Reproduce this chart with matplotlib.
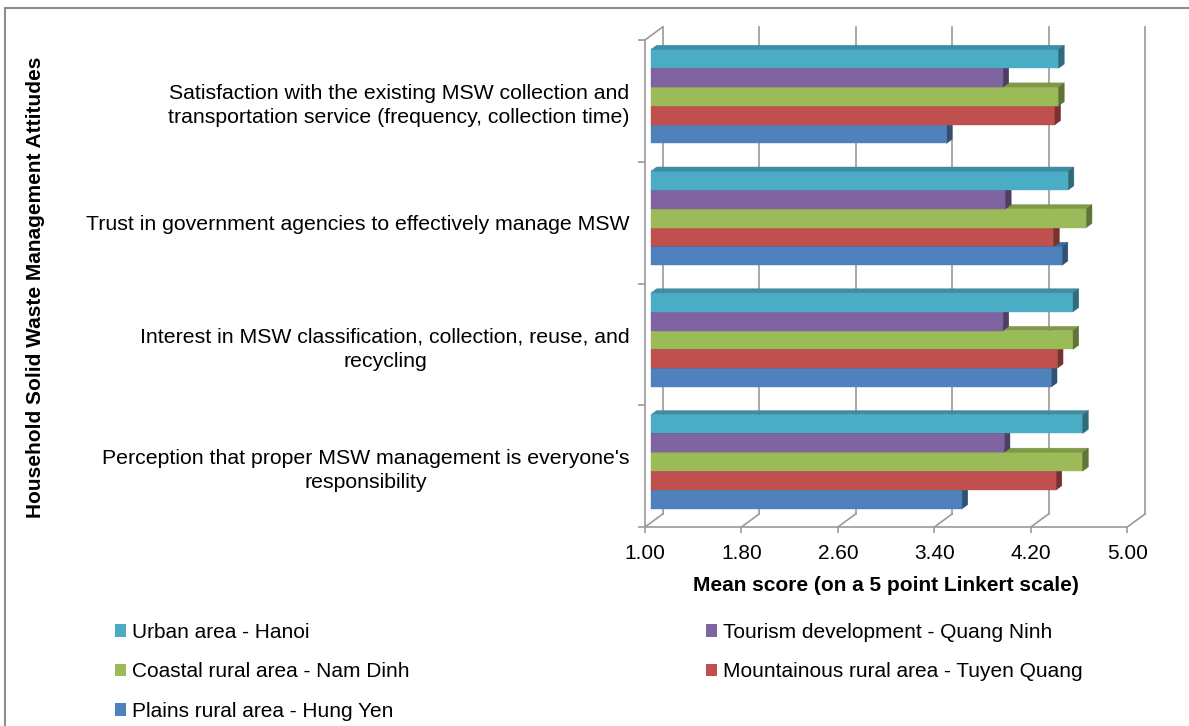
import numpy as np
import matplotlib
matplotlib.use("Agg")
import matplotlib.pyplot as plt
from matplotlib.patches import Patch
from matplotlib.lines import Line2D
from matplotlib.colors import to_rgb

plt.rcParams['font.family'] = ['Liberation Sans', 'DejaVu Sans']

# categories, bottom to top
categories = [
    "Perception that proper MSW management is everyone's\nresponsibility",
    "Interest in MSW classification, collection, reuse, and\nrecycling",
    "Trust in government agencies to effectively manage MSW",
    "Satisfaction with the existing MSW collection and\ntransportation service (frequency, collection time)",
]

series_names = [
    "Urban area - Hanoi",
    "Tourism development - Quang Ninh",
    "Coastal rural area - Nam Dinh",
    "Mountainous rural area - Tuyen Quang",
    "Plains rural area - Hung Yen",
]
colors = ['#4BACC6', '#8064A2', '#9BBB59', '#C0504D', '#4F81BD']

# mean scores, same order as categories
hanoi = [4.58, 4.50, 4.46, 4.38]
quang_ninh = [3.93, 3.92, 3.94, 3.92]
nam_dinh = [4.58, 4.50, 4.61, 4.38]
tuyen_quang = [4.36, 4.37, 4.34, 4.35]
hung_yen = [3.58, 4.32, 4.41, 3.45]

xticks = [1.0, 1.8, 2.6, 3.4, 4.2, 5.0]
xtick_labels = ['1.00', '1.80', '2.60', '3.40', '4.20', '5.00']

GRID = '#9a9a9a'
FS = 15

# fake 3d box: full depth offset in data units, and depth slice used by bars
DX, DY = 0.147, 0.107
Z0, Z1 = 0.34, 0.66
BAR_H = 0.1545


def proj(x, y, z):
    return x + z * DX, y + z * DY


def shade(c, f):
    r, g, b = to_rgb(c)
    return (r * f, g * f, b * f)


W, H = 1189, 726
fig = plt.figure(figsize=(W / 100, H / 100), dpi=100)
ax = fig.add_axes([645 / W, 1 - 527 / H, 482.3 / W, 487 / H])
ax.set_xlim(1, 5)
ax.set_ylim(-0.5, len(categories) - 0.5)
ax.patch.set_visible(False)
for s in ax.spines.values():
    s.set_visible(False)

y_lo, y_hi = -0.5, len(categories) - 0.5

# back wall gridlines + floor lines
for x in xticks:
    bx, by0 = proj(x, y_lo, 1)
    _, by1 = proj(x, y_hi, 1)
    ax.plot([bx, bx], [by0, by1], color=GRID, lw=1.2, zorder=1, clip_on=False)
    fx, fy = proj(x, y_lo, 0)
    ax.plot([fx, bx], [fy, by0], color=GRID, lw=1.2, zorder=1, clip_on=False)
ax.plot([1, 5], [y_lo, y_lo], color=GRID, lw=1.2, zorder=1, clip_on=False)

# left wall
ax.plot([1, 1], [y_lo, y_hi], color=GRID, lw=1.2, zorder=1, clip_on=False)
tx, ty = proj(1, y_hi, 1)
ax.plot([1, tx], [y_hi, ty], color=GRID, lw=1.2, zorder=1, clip_on=False)

# bars, bottom series first so the upper bars cover the hidden top faces
all_series = [hanoi, quang_ninh, nam_dinh, tuyen_quang, hung_yen]
y_pos = np.arange(len(categories))
for k in reversed(range(len(all_series))):
    vals = np.array(all_series[k])
    y_bot = y_pos + 2.5 * BAR_H - (k + 1) * BAR_H
    zo = 5 + (len(all_series) - k)
    c = colors[k]
    x0, yb = proj(1.0, y_bot, Z0)
    ax.barh(yb, vals - 1.0, left=x0, height=BAR_H, align='edge', color=c,
            edgecolor=c, linewidth=0.3, zorder=zo, clip_on=False)
    for v, y0 in zip(vals, y_bot):
        y1 = y0 + BAR_H
        top = [proj(1, y1, Z0), proj(v, y1, Z0), proj(v, y1, Z1), proj(1, y1, Z1)]
        side = [proj(v, y0, Z0), proj(v, y1, Z0), proj(v, y1, Z1), proj(v, y0, Z1)]
        ax.fill(*zip(*top), color=shade(c, 0.82), lw=0.3, zorder=zo, clip_on=False)
        ax.fill(*zip(*side), color=shade(c, 0.62), lw=0.3, zorder=zo, clip_on=False)

# axes ticks and labels
ax.set_xticks(xticks)
ax.set_xticklabels(xtick_labels)
ax.tick_params(axis='x', length=4, width=1.2, color=GRID, pad=8, labelsize=FS)
ax.set_yticks(np.arange(y_lo, y_hi + 0.01, 1))
ax.set_yticklabels([])
ax.tick_params(axis='y', which='major', length=5, width=1.2, color=GRID)
ax.set_yticks(y_pos, minor=True)
ax.set_yticklabels(categories, minor=True, fontsize=15.3, multialignment='center',
                   linespacing=1.35)
ax.tick_params(axis='y', which='minor', length=0, pad=11)
ax.set_xlabel("Mean score (on a 5 point Linkert scale)", fontsize=FS,
              fontweight='bold', labelpad=9.5)

fig.text(36 / W, 1 - 287 / H, "Household Solid Waste Management Attitudes",
         rotation=90, ha='center', va='center', fontsize=FS, fontweight='bold')

# legend in two columns
handles = [Patch(facecolor=c, edgecolor='none') for c in colors]
leg_kw = dict(frameon=False, fontsize=FS, loc='upper left', borderpad=0,
              borderaxespad=0, handlelength=0.55, handleheight=0.55,
              handletextpad=0.25, labelspacing=0.98)
left_idx, right_idx = [0, 2, 4], [1, 3]
fig.legend([handles[i] for i in left_idx], [series_names[i] for i in left_idx],
           bbox_to_anchor=(115 / W, 1 - 623 / H), **leg_kw)
fig.legend([handles[i] for i in right_idx], [series_names[i] for i in right_idx],
           bbox_to_anchor=(706 / W, 1 - 623 / H), **leg_kw)

# outer chart border (top and left edges)
fig.add_artist(Line2D([5 / W, 5 / W], [0, 1 - 7.5 / H], color='#8c8c8c', lw=1.5))
fig.add_artist(Line2D([5 / W, 1], [1 - 7.5 / H, 1 - 7.5 / H], color='#8c8c8c', lw=1.5))

fig.savefig("out.png", dpi=100, facecolor='white')
